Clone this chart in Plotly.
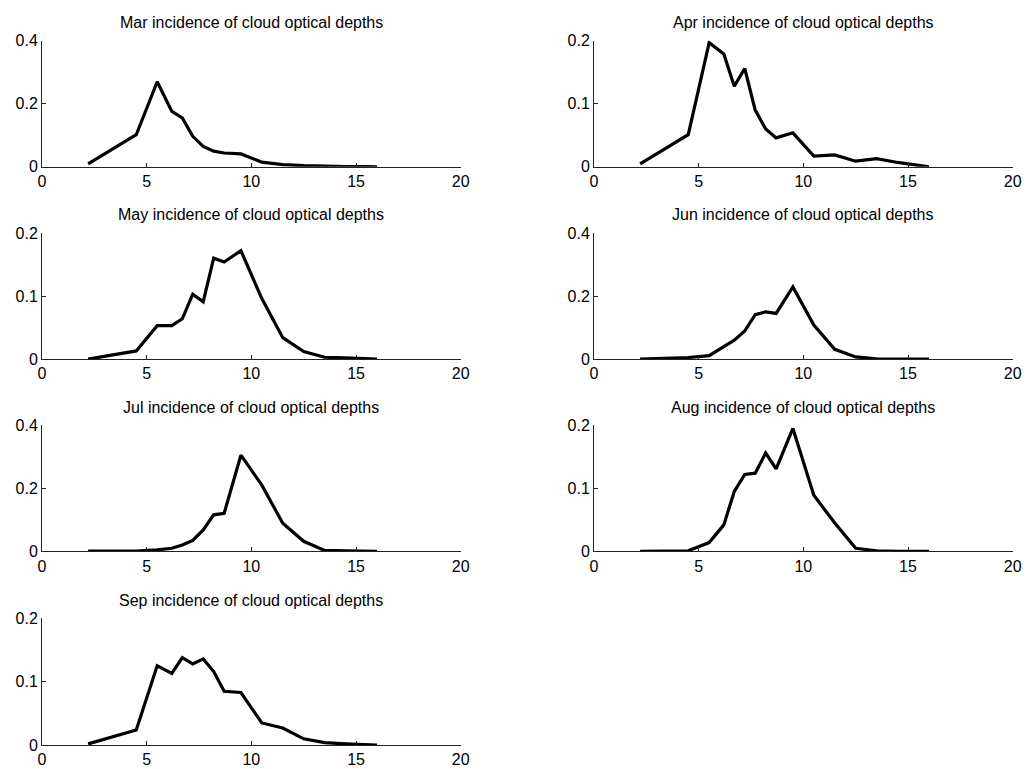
import plotly.graph_objects as go

# optical depth bins (x) shared by every month
depth = [2.2, 4.5, 5.5, 6.2, 6.7, 7.2, 7.7, 8.2, 8.7, 9.5, 10.5, 11.5, 12.5, 13.5, 14.5, 15.5, 16.0]

months = ["Mar", "Apr", "May", "Jun", "Jul", "Aug", "Sep"]

mar = [0.0095, 0.102, 0.27, 0.176, 0.155, 0.097, 0.065, 0.05, 0.044, 0.041, 0.015, 0.007, 0.004, 0.002, 0.001, 0.0005, 0.0]
apr = [0.0047, 0.051, 0.197, 0.179, 0.128, 0.156, 0.09, 0.06, 0.046, 0.054, 0.017, 0.019, 0.009, 0.013, 0.007, 0.003, 0.0]
may = [0.0, 0.013, 0.053, 0.053, 0.064, 0.103, 0.091, 0.16, 0.154, 0.172, 0.096, 0.034, 0.012, 0.003, 0.002, 0.001, 0.0]
jun = [0.0, 0.005, 0.011, 0.039, 0.06, 0.089, 0.141, 0.15, 0.145, 0.229, 0.108, 0.031, 0.007, 0.001, 0.0, 0.0, 0.0]
jul = [0.001, 0.001, 0.005, 0.01, 0.02, 0.035, 0.068, 0.116, 0.121, 0.305, 0.21, 0.089, 0.032, 0.003, 0.002, 0.001, 0.0]
aug = [0.0, 0.001, 0.014, 0.042, 0.095, 0.122, 0.124, 0.156, 0.131, 0.195, 0.089, 0.045, 0.005, 0.001, 0.0, 0.0, 0.0]
sep = [0.002, 0.024, 0.125, 0.113, 0.138, 0.128, 0.136, 0.116, 0.085, 0.083, 0.035, 0.027, 0.010, 0.004, 0.002, 0.001, 0.0]

series = [mar, apr, may, jun, jul, aug, sep]
y_max = [0.4, 0.2, 0.2, 0.4, 0.4, 0.2, 0.2]

x_ticks = [0, 5, 10, 15, 20]

# panel positions (paper fractions) for the 4x2 grid
col_domains = [[0.041, 0.449], [0.579, 0.987]]
row_domains = [[0.783, 0.947], [0.533, 0.697], [0.283, 0.447], [0.031, 0.196]]

fig = go.Figure()
layout = dict(
    width=1026, height=769,
    margin=dict(l=0, r=0, t=0, b=0),
    paper_bgcolor="white", plot_bgcolor="white",
    showlegend=False,
    font=dict(family="Liberation Sans, Arial, sans-serif", color="black"),
)
annotations = []

for i, (month, vals) in enumerate(zip(months, series)):
    n = i + 1
    row, col = i // 2, i % 2
    xa = "x" if n == 1 else "x%d" % n
    ya = "y" if n == 1 else "y%d" % n
    fig.add_trace(go.Scatter(x=depth, y=vals, mode="lines", xaxis=xa, yaxis=ya,
                             line=dict(color="black", width=3.2)))
    ymax = y_max[i]
    y_ticks = [0, ymax / 2, ymax]
    axis_style = dict(showgrid=False, zeroline=False, showline=True, linecolor="#222222",
                      linewidth=1, ticks="inside", ticklen=4, tickcolor="#222222",
                      tickfont=dict(size=16), automargin=False)
    layout["xaxis" if n == 1 else "xaxis%d" % n] = dict(
        axis_style, domain=col_domains[col], anchor=ya, range=[0, 20],
        tickvals=x_ticks, ticktext=[str(t) for t in x_ticks])
    layout["yaxis" if n == 1 else "yaxis%d" % n] = dict(
        axis_style, domain=row_domains[row], anchor=xa, range=[0, ymax],
        tickvals=y_ticks, ticktext=["0", "%g" % (ymax / 2), "%g" % ymax])
    annotations.append(dict(
        text="%s incidence of cloud optical depths" % month,
        x=sum(col_domains[col]) / 2, y=row_domains[row][1] + 0.01,
        xref="paper", yref="paper", xanchor="center", yanchor="bottom",
        showarrow=False, font=dict(size=16)))

layout["annotations"] = annotations
fig.update_layout(**layout)
# drop the page margin so the figure sits at the window's corner
fig.write_html("out.html", post_script="document.body.style.margin='0';document.body.style.overflow='hidden';",
               config={"displayModeBar": False})
